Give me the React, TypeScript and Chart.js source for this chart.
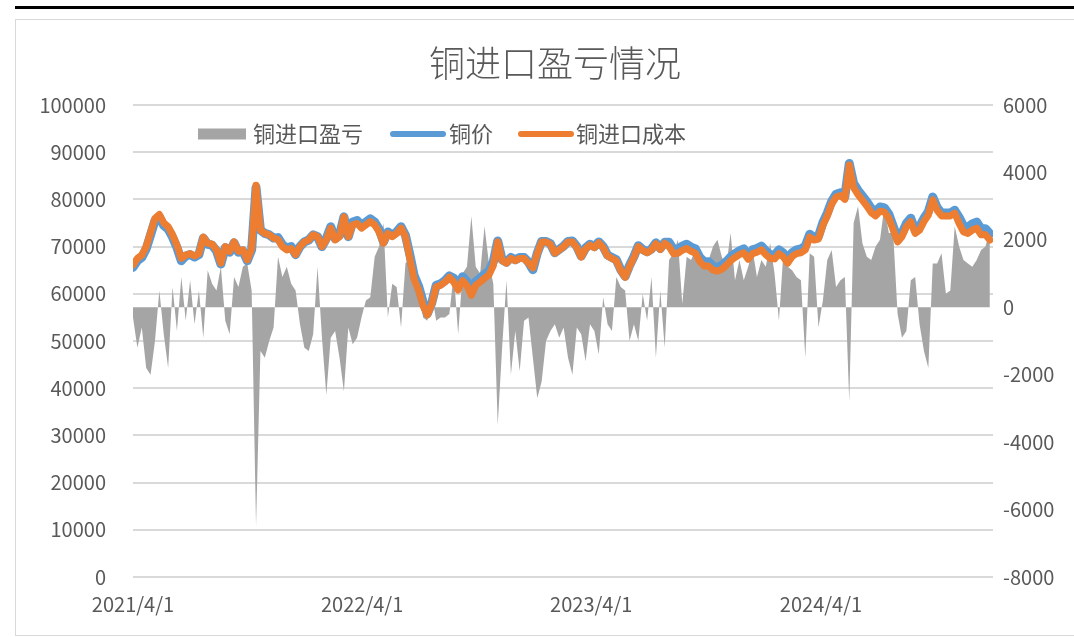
import { useEffect, useRef } from "react";
import { Chart, registerables } from "chart.js";

Chart.register(...registerables);

const TITLE = "铜进口盈亏情况";
const SERIES_NAMES = ["铜进口盈亏", "铜价", "铜进口成本"];
const START_DATE = "2021/4/1";
const END_DATE = "2024/12/31";
const STEP_DAYS = 7;
const X_TICK_LABELS = ["2021/4/1", "2022/4/1", "2023/4/1", "2024/4/1"];

// 铜进口成本 (left axis)
const COST = [
  66100, 67500, 68200, 70000, 73000, 76000, 76800, 75000, 74200, 72500,
  70300, 67500, 68200, 68500, 68000, 68500, 72000, 70700, 70500, 69300,
  66500, 70000, 69000, 71000, 69000, 69300, 67200, 69500, 83000, 73500,
  72800, 72500, 71800, 71500, 70000, 69300, 69600, 68300, 70000, 71000,
  71400, 72500, 72100, 70000, 71400, 73900, 71400, 72100, 76300, 72100,
  74600, 74900, 73900, 74600, 75300, 74600, 73100, 70700, 72800, 72100,
  72800, 73900, 72100, 67500, 63000, 60800, 57500, 55500, 57800, 61500,
  61800, 62500, 63500, 62500, 60800, 62800, 61800, 59700, 61800, 62500,
  63300, 64000, 66000, 71000, 67000, 66500, 67500, 67000, 67500, 67500,
  66500, 65500, 68500, 71000, 71000, 70500, 68600, 69300, 70000, 71000,
  71000, 69800, 67800, 69500, 70300, 69800, 70800, 69800, 68000, 67500,
  67000, 64900, 63500, 65800, 67700, 70000, 69200, 68700, 69300, 70600,
  69400, 70700, 70000, 68500, 68600, 69200, 69600, 69000, 68600, 66800,
  65900, 65900, 65000, 64800, 65200, 66000, 67000, 67700, 68300, 68700,
  67300, 68500, 68800, 69300, 68300, 67500, 67400, 68500, 67800, 66500,
  67900, 68500, 68700, 69300, 72000, 71400, 71600, 74500, 76500, 79000,
  80500, 80800, 80000, 87300, 82500, 81000, 79800, 78600, 77200, 76500,
  77500, 77300, 76000, 73600, 71000, 72100, 74200, 75300, 72800, 73500,
  75300, 76700, 79900, 77700, 76500, 76500, 76500, 77100, 74900, 73100,
  72800, 73500, 73900, 72500, 72500, 71400,
];

// 铜价 (left axis)
const PRICE = [
  65600, 67000, 67700, 69500, 72500, 75500, 76300, 74500, 73700, 72000,
  69800, 67000, 68000, 68300, 67800, 68300, 71800, 70500, 70300, 69100,
  66300, 69800, 68800, 70800, 68800, 69100, 67000, 69300, 82500, 73500,
  72800, 72500, 71800, 71900, 70400, 69700, 70000, 68300, 70000, 71000,
  71400, 72500, 72100, 70000, 71700, 74200, 71700, 72400, 76300, 72100,
  75200, 75500, 74500, 75200, 75900, 75200, 73700, 71000, 73100, 72400,
  73100, 74200, 72400, 68300, 63800, 61600, 58300, 55800, 58100, 61800,
  62100, 62800, 63800, 63300, 61600, 63600, 62600, 60500, 62600, 63300,
  64100, 64800, 66800, 71200, 67200, 66700, 67700, 67200, 67700, 67700,
  66700, 65100, 68600, 71100, 71100, 70600, 68700, 69400, 70100, 71100,
  71200, 70000, 68000, 69700, 70500, 70000, 71000, 70000, 68200, 67700,
  67200, 65100, 63700, 66000, 67900, 70200, 69400, 68900, 69500, 70800,
  69600, 70900, 70900, 69400, 69500, 70100, 70500, 69900, 69500, 67700,
  66800, 66800, 65800, 65600, 66000, 66800, 67800, 68500, 69100, 69500,
  68100, 69300, 69600, 70100, 69100, 68300, 68200, 69300, 68600, 67300,
  68700, 69300, 69500, 70100, 72600, 72000, 72200, 75100, 77100, 79600,
  81100, 81400, 80600, 87600, 83400, 81900, 80700, 79500, 78100, 77400,
  78400, 78200, 76900, 74300, 71700, 72800, 74900, 76000, 73500, 74200,
  76000, 77400, 80500, 78300, 77100, 77100, 77100, 77700, 76200, 74400,
  74100, 74800, 75200, 73800, 73800, 72700,
];

// 铜进口盈亏 (right axis)
const PROFIT = [
  -300, -1200, -600, -1800, -2000, -1000, 500, -800, -1800, 600,
  -700, 900, -400, 800, -500, 500, -900, 1100, 700, 500,
  1200, -400, -800, 900, 600, 1200, 1300, 500, -6500, -1300,
  -1500, -1000, -600, 1500, 900, 1200, 700, 500, -500, -1200,
  -1300, -800, 1200, -900, -2600, -900, -700, -1500, -2500, -600,
  -1100, -900, -300, 200, 300, 1500, 1800, 2500, -300, 700,
  600, -600, 1300, 1500, 1000, 800, -300, -400, 400, -400,
  -300, -300, -200, 1000, -800, 1000, 1200, 2700, 1200, 1000,
  2400, 1300, 700, -3500, -1200, 800, -2000, -700, -1900, -400,
  -300, -1500, -2700, -2200, -1000, -700, -500, -900, -600, -1500,
  -2000, -600, -800, -1600, -500, -700, -1400, 300, -500, -700,
  900, 600, 500, -1000, -500, -1000, 400, -400, 900, -1500,
  500, -1200, 1400, 1600, 2000, 100, 1500, 1400, 1700, 1500,
  1300, 1400, 1800, 2000, 1500, 1200, 2200, 800, 1400, 800,
  1200, 1700, 900, 1400, 1200, 1900, 1000, -400, 1600, 1200,
  1100, 900, 800, -1500, 1600, 1500, -600, 200, 1400, 1700,
  600, 800, 900, -2800, 2500, 3000, 1900, 1500, 1400, 1800,
  2000, 3000, 2200, 2200, -200, -900, -700, 800, 900, -500,
  -1300, -1800, 1300, 1300, 1600, 400, 500, 2400, 1800, 1400,
  1300, 1200, 1400, 1700, 1800, 2300,
];

const FONT = '"Noto Sans CJK SC", "Noto Sans", sans-serif';
const TEXT_COLOR = "#595959";
const GRID_COLOR = "#d9d9d9";
const GRAY = "#a5a5a5";
const BLUE = "#5b9bd5";
const ORANGE = "#ed7d31";

function dayOf(s: string): number {
  const [y, m, d] = s.split("/").map(Number);
  const [y0, m0, d0] = START_DATE.split("/").map(Number);
  return Math.round((Date.UTC(y, m - 1, d) - Date.UTC(y0, m0 - 1, d0)) / 86400000);
}

const X_DAYS = COST.map((_, i) => i * STEP_DAYS);
const TICK_BY_DAY: Record<number, string> = {};
X_TICK_LABELS.forEach((l) => {
  TICK_BY_DAY[dayOf(l)] = l;
});

const overlayPlugin = {
  id: "overlay",
  afterDraw(chart: any) {
    const ctx = chart.ctx as CanvasRenderingContext2D;
    ctx.save();
    ctx.fillStyle = TEXT_COLOR;
    ctx.font = `300 36px ${FONT}`;
    ctx.textAlign = "center";
    ctx.textBaseline = "middle";
    ctx.fillText(TITLE, 555, 63);

    const ly = 134;
    ctx.font = `22px ${FONT}`;
    ctx.textAlign = "left";
    ctx.fillStyle = GRAY;
    ctx.fillRect(198, ly - 5.5, 48, 11);
    ctx.fillStyle = TEXT_COLOR;
    ctx.fillText(SERIES_NAMES[0], 253, ly);

    ctx.lineCap = "round";
    ctx.lineWidth = 6;
    ctx.strokeStyle = BLUE;
    ctx.beginPath();
    ctx.moveTo(393, ly);
    ctx.lineTo(443, ly);
    ctx.stroke();
    ctx.fillStyle = TEXT_COLOR;
    ctx.fillText(SERIES_NAMES[1], 449, ly);

    ctx.strokeStyle = ORANGE;
    ctx.beginPath();
    ctx.moveTo(521, ly);
    ctx.lineTo(571, ly);
    ctx.stroke();
    ctx.fillStyle = TEXT_COLOR;
    ctx.fillText(SERIES_NAMES[2], 576, ly);
    ctx.restore();
  },
};

export default function App() {
  const canvasRef = useRef<HTMLCanvasElement | null>(null);

  useEffect(() => {
    const canvas = canvasRef.current;
    if (!canvas) return;
    const tickFont = { family: FONT, size: 20 };
    const chart = new Chart(canvas, {
      type: "line",
      data: {
        datasets: [
          {
            label: SERIES_NAMES[0],
            data: PROFIT.map((v, i) => ({ x: X_DAYS[i], y: v })),
            yAxisID: "y1",
            backgroundColor: GRAY,
            borderColor: GRAY,
            borderWidth: 0,
            pointRadius: 0,
            fill: "origin",
            tension: 0,
            order: 3,
          },
          {
            label: SERIES_NAMES[1],
            data: PRICE.map((v, i) => ({ x: X_DAYS[i], y: v })),
            yAxisID: "y",
            borderColor: BLUE,
            backgroundColor: BLUE,
            borderWidth: 9,
            pointRadius: 0,
            fill: false,
            borderJoinStyle: "round",
            borderCapStyle: "round",
            tension: 0,
            order: 2,
          },
          {
            label: SERIES_NAMES[2],
            data: COST.map((v, i) => ({ x: X_DAYS[i], y: v })),
            yAxisID: "y",
            borderColor: ORANGE,
            backgroundColor: ORANGE,
            borderWidth: 7,
            pointRadius: 0,
            fill: false,
            borderJoinStyle: "round",
            borderCapStyle: "round",
            tension: 0,
            order: 1,
          },
        ],
      },
      options: {
        responsive: false,
        animation: false,
        layout: { padding: { top: 105, left: 0, right: 0, bottom: 0 } },
        plugins: {
          legend: { display: false },
          title: { display: false },
          tooltip: { enabled: false },
        },
        scales: {
          x: {
            type: "linear",
            min: 0,
            max: dayOf(END_DATE),
            afterBuildTicks: (axis: any) => {
              axis.ticks = X_TICK_LABELS.map((l) => ({ value: dayOf(l) }));
            },
            afterFit: (s: any) => {
              s.height = 60;
            },
            grid: { display: false, drawTicks: false },
            border: { display: false },
            ticks: {
              autoSkip: false,
              maxRotation: 0,
              minRotation: 0,
              padding: 15,
              color: TEXT_COLOR,
              font: tickFont,
              callback: (v: any) => TICK_BY_DAY[Math.round(Number(v))] ?? "",
            },
          },
          y: {
            type: "linear",
            position: "left",
            min: 0,
            max: 100000,
            afterFit: (s: any) => {
              s.width = 133;
            },
            grid: { color: GRID_COLOR, lineWidth: 2, drawTicks: false },
            border: { display: false },
            ticks: {
              stepSize: 10000,
              padding: 27,
              color: TEXT_COLOR,
              font: tickFont,
              callback: (v: any) => String(v),
            },
          },
          y1: {
            type: "linear",
            position: "right",
            min: -8000,
            max: 6000,
            afterFit: (s: any) => {
              s.width = 81;
            },
            grid: { display: false, drawTicks: false },
            border: { display: false },
            ticks: {
              stepSize: 2000,
              padding: 10,
              color: TEXT_COLOR,
              font: tickFont,
              callback: (v: any) => String(v),
            },
          },
        },
      } as any,
      plugins: [overlayPlugin],
    });
    return () => chart.destroy();
  }, []);

  return (
    <div style={{ position: "fixed", left: 0, top: 0, width: 1074, height: 637, overflow: "hidden", background: "#fff" }}>
      <div style={{ position: "absolute", left: 15, top: 6, right: 0, height: 3, background: "#000" }} />
      <div
        style={{
          position: "absolute",
          left: 15,
          top: 19,
          width: 1070,
          height: 617,
          border: "1px solid #d9d9d9",
          boxSizing: "border-box",
        }}
      />
      <canvas
        ref={canvasRef}
        width={1074}
        height={637}
        style={{ position: "absolute", left: 0, top: 0, width: 1074, height: 637, display: "block" }}
      />
    </div>
  );
}
